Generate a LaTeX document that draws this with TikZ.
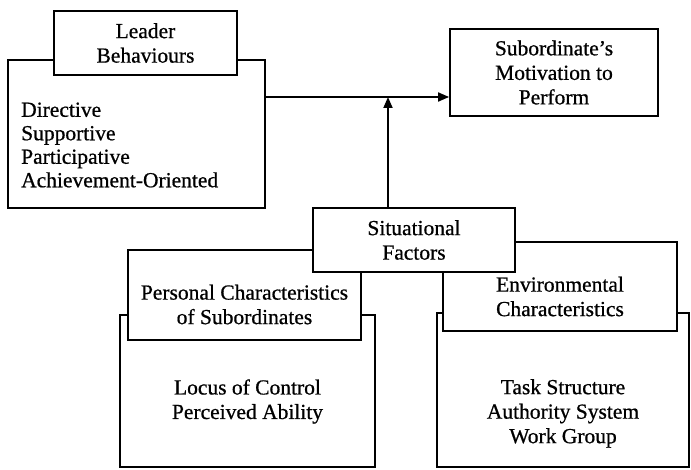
\documentclass[tikz,border=0pt]{standalone}
\usepackage{fontspec}
\setmainfont{Liberation Serif}[UprightFeatures={FakeBold=0.7}]
\usetikzlibrary{arrows.meta}

\tikzset{
  frame/.style={draw=black, line width=1.8pt, fill=white, inner sep=0pt},
  label text/.style={inner sep=0pt, align=center,
    font=\fontsize{21.5}{24.5}\selectfont},
  list text/.style={inner sep=0pt, align=left, anchor=west,
    font=\fontsize{21.5}{23.5}\selectfont},
  flow/.style={draw=black, line width=1.8pt,
    -{Triangle[length=11pt,width=9pt]}}
}

\begin{document}
\begin{tikzpicture}[x=1pt, y=-1pt]
  \useasboundingbox (0,0) rectangle (691,470);

  % Leader behaviours: body box with its heading tab on top
  \node[frame, minimum width=257pt, minimum height=148pt] (lbbox) at (136.5,134) {};
  \node[frame, minimum width=183pt, minimum height=64pt] (lbhead) at (145.5,43) {};
  \node[label text] (lbtitle) at (lbhead.center) {Leader\\Behaviours};
  \node[list text] (lblist) at (21,145)
    {Directive\\Supportive\\Participative\\Achievement-Oriented};

  % Outcome box
  \node[frame, minimum width=208pt, minimum height=87pt] (sub) at (554,72.5) {};
  \node[label text] (subtext) at (sub.center) {Subordinate's\\Motivation to\\Perform};

  % Personal characteristics group
  \node[frame, minimum width=255pt, minimum height=152pt] (pcbox) at (247.5,391) {};
  \node[frame, minimum width=233pt, minimum height=90pt] (pchead) at (244.5,295) {};
  \node[label text] (pctitle) at (244.5,304.5) {Personal Characteristics\\of Subordinates};
  \node[label text] (pclist) at (247.5,401.5) {Locus of Control\\Perceived Ability};

  % Environmental characteristics group
  \node[frame, minimum width=252pt, minimum height=154pt] (ecbox) at (563,390) {};
  \node[frame, minimum width=234pt, minimum height=89pt] (echead) at (560,286.5) {};
  \node[label text] (ectitle) at (560,296.5) {Environmental\\Characteristics};
  \node[label text] (eclist) at (563,413.5) {Task Structure\\Authority System\\Work Group};

  % Situational factors sit over both heading tabs
  \node[frame, minimum width=202pt, minimum height=64pt] (sf) at (414,240) {};
  \node[label text] (sftext) at (sf.center) {Situational\\Factors};

  % Connectors
  \coordinate (join) at (388,97);
  \draw[flow] (lbbox.east |- join) -- (sub.west |- join);
  \draw[flow] (sf.north -| join) -- (join);
\end{tikzpicture}
\end{document}
